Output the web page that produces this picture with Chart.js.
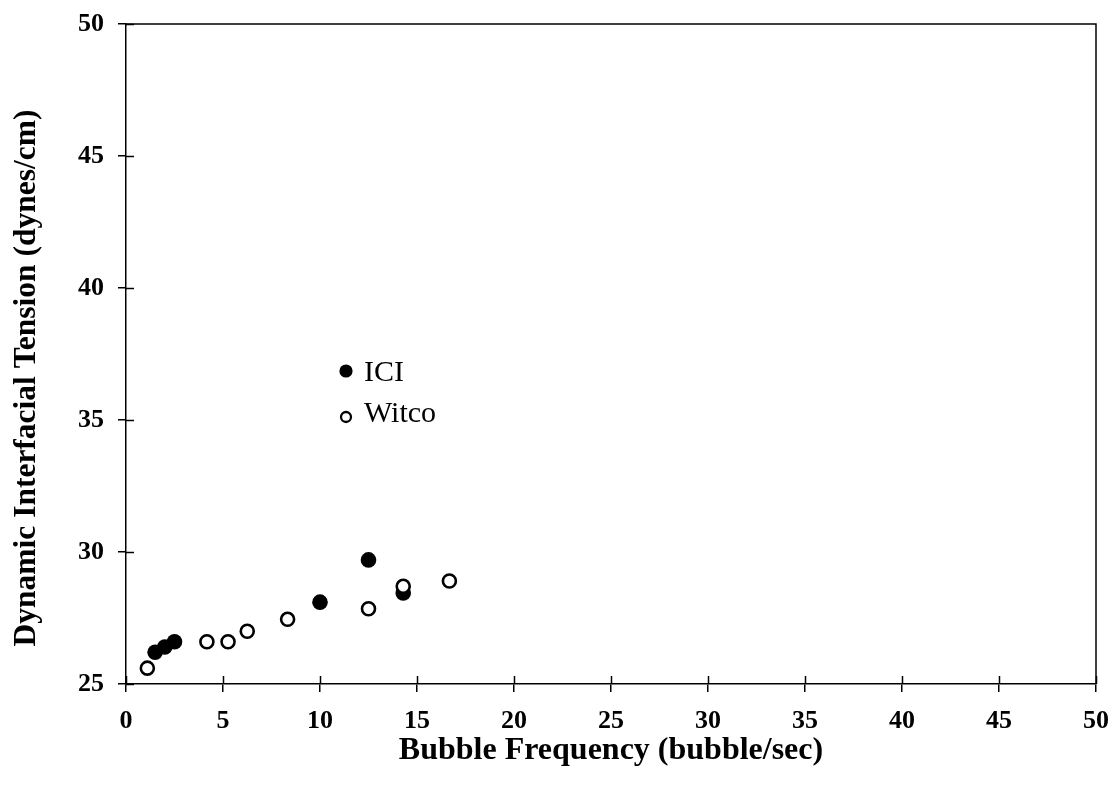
<!DOCTYPE html>
<html>
<head>
<meta charset="utf-8">
<style>
  html, body { margin: 0; padding: 0; background: #fff; }
  #wrap { width: 1116px; height: 791px; }
</style>
<script src="https://cdn.jsdelivr.net/npm/chart.js@4.4.1/dist/chart.umd.min.js"></script>
</head>
<body>
<div id="wrap"><canvas id="c" width="1116" height="791"></canvas></div>
<script>
// Bubble frequency (bubble/sec) and dynamic interfacial tension (dynes/cm)
const iciFreq    = [1.5, 2.0, 2.5, 10.0, 12.5, 14.29];
const iciTension = [26.2, 26.4, 26.6, 28.1, 29.7, 28.45];

const witcoFreq    = [1.1, 4.17, 5.26, 6.25, 8.33, 12.5, 14.29, 16.67];
const witcoTension = [25.6, 26.6, 26.6, 27.0, 27.45, 27.85, 28.7, 28.9];

const xTicks = [0, 5, 10, 15, 20, 25, 30, 35, 40, 45, 50];
const yTicks = [25, 30, 35, 40, 45, 50];

const seriesNames = ['ICI', 'Witco'];
const xTitle = 'Bubble Frequency (bubble/sec)';
const yTitle = 'Dynamic Interfacial Tension (dynes/cm)';

const toPoints = (xs, ys) => xs.map((x, i) => ({ x: x, y: ys[i] }));

const SERIF = '"Liberation Serif", "Times New Roman", serif';

// White page, framed plot box, ticks that cross the axes, vertical axis title
const framePlugin = {
  id: 'frame',
  beforeDraw(chart) {
    const ctx = chart.ctx;
    ctx.save();
    ctx.fillStyle = '#fff';
    ctx.fillRect(0, 0, chart.width, chart.height);
    ctx.restore();
  },
  afterDatasetsDraw(chart) {
    const { ctx, chartArea: a, scales } = chart;
    ctx.save();
    ctx.strokeStyle = '#000';
    ctx.lineWidth = 1.5;
    ctx.beginPath();
    ctx.moveTo(a.left, a.top);
    ctx.lineTo(a.right, a.top);
    ctx.lineTo(a.right, a.bottom);
    ctx.stroke();
    const len = 8;
    ctx.beginPath();
    scales.x.ticks.forEach(t => {
      const px = Math.round(scales.x.getPixelForValue(t.value)) + 0.5;
      ctx.moveTo(px, a.bottom);
      ctx.lineTo(px, a.bottom - len);
    });
    scales.y.ticks.forEach(t => {
      const py = Math.round(scales.y.getPixelForValue(t.value)) + 0.5;
      ctx.moveTo(a.left, py);
      ctx.lineTo(a.left + len, py);
    });
    ctx.stroke();

    // vertical axis title, set a little below the plot's middle
    ctx.translate(35, 378);
    ctx.rotate(-Math.PI / 2);
    ctx.fillStyle = '#000';
    ctx.font = 'bold 31.5px ' + SERIF;
    ctx.textAlign = 'center';
    ctx.textBaseline = 'alphabetic';
    ctx.fillText(yTitle, 0, 0);
    ctx.restore();
  }
};

// Legend placed inside the plot area
const innerLegend = {
  id: 'innerLegend',
  afterDatasetsDraw(chart) {
    const ctx = chart.ctx;
    const rows = [
      { x: 346, y: 371, ds: chart.data.datasets[1], r: 6.6, textX: 364, baseY: 381 },
      { x: 346, y: 417, ds: chart.data.datasets[0], r: 5, bw: 2.3, textX: 364, baseY: 422 }
    ];
    ctx.save();
    rows.forEach(row => {
      const ds = row.ds;
      ctx.beginPath();
      ctx.arc(row.x, row.y, row.r, 0, Math.PI * 2);
      ctx.fillStyle = ds.pointBackgroundColor;
      ctx.fill();
      if (ds.pointBorderWidth > 0) {
        ctx.lineWidth = row.bw;
        ctx.strokeStyle = ds.pointBorderColor;
        ctx.stroke();
      }
      ctx.fillStyle = '#000';
      ctx.font = '30px ' + SERIF;
      ctx.textAlign = 'left';
      ctx.textBaseline = 'alphabetic';
      ctx.fillText(ds.label, row.textX, row.baseY);
    });
    ctx.restore();
  }
};

new Chart(document.getElementById('c'), {
  type: 'scatter',
  data: {
    datasets: [
      {
        label: seriesNames[1],
        data: toPoints(witcoFreq, witcoTension),
        pointRadius: 6.5,
        pointHoverRadius: 6.5,
        pointBackgroundColor: '#fff',
        pointBorderColor: '#000',
        pointBorderWidth: 2.6,
        order: 0
      },
      {
        label: seriesNames[0],
        data: toPoints(iciFreq, iciTension),
        pointRadius: 7.8,
        pointHoverRadius: 7.8,
        pointBackgroundColor: '#000',
        pointBorderColor: '#000',
        pointBorderWidth: 0,
        order: 1
      }
    ]
  },
  options: {
    responsive: false,
    animation: false,
    events: [],
    layout: { padding: { top: 24, right: 20, left: 0, bottom: 0 } },
    plugins: { legend: { display: false }, tooltip: { enabled: false } },
    scales: {
      x: {
        type: 'linear',
        min: 0, max: 50,
        afterBuildTicks: s => { s.ticks = xTicks.map(v => ({ value: v })); },
        afterFit: s => { s.height = 107; s.paddingLeft = 0; s.paddingRight = 0; },
        grid: { drawOnChartArea: false, drawTicks: true, tickLength: 8, color: '#000', lineWidth: 1.5 },
        border: { display: true, color: '#000', width: 1.5 },
        ticks: {
          color: '#000',
          padding: 14,
          maxRotation: 0,
          font: { family: SERIF, size: 26, weight: 'bold' }
        },
        title: {
          display: true,
          text: xTitle,
          color: '#000',
          padding: { top: 0, bottom: 21 },
          font: { family: SERIF, size: 32, weight: 'bold' }
        }
      },
      y: {
        type: 'linear',
        min: 25, max: 50,
        afterBuildTicks: s => { s.ticks = yTicks.map(v => ({ value: v })); },
        afterFit: s => { s.width = 126; s.paddingTop = 0; s.paddingBottom = 0; },
        grid: { drawOnChartArea: false, drawTicks: true, tickLength: 8, color: '#000', lineWidth: 1.5 },
        border: { display: true, color: '#000', width: 1.5 },
        ticks: {
          color: '#000',
          padding: 14,
          font: { family: SERIF, size: 26, weight: 'bold' }
        },
        title: { display: false }
      }
    }
  },
  plugins: [framePlugin, innerLegend]
});
</script>
</body>
</html>
